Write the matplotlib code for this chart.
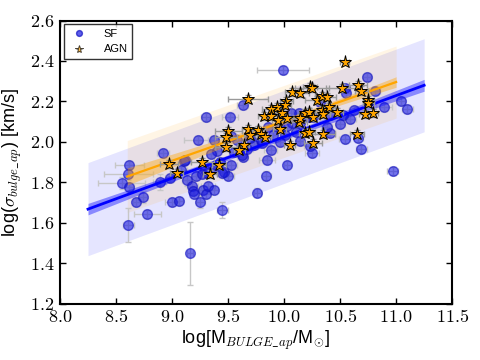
import numpy as np
import matplotlib

matplotlib.use('Agg')

from matplotlib import pyplot as plt
from matplotlib.ticker import FuncFormatter

##### Data #####
# SF galaxies: log bulge mass, log sigma, errors
sf_mass = [8.55, 8.61, 8.62, 8.62, 8.61, 8.68, 8.74, 8.78, 8.92, 8.89,
           8.98, 9.00, 9.06, 9.11, 9.08, 9.13, 9.18, 9.19, 9.20, 9.21,
           9.23, 9.16, 9.45, 9.25, 9.28, 9.30, 9.32, 9.37, 9.29, 9.37,
           9.46, 9.50, 9.53, 9.63, 9.76, 9.84, 9.85, 10.03, 9.88, 10.25,
           10.69, 10.97, 9.12, 9.30, 9.52, 9.63, 9.99, 9.37, 9.40, 9.35,
           9.58, 9.53, 9.73, 9.55, 9.62, 9.80, 9.79, 9.90, 9.86, 10.01,
           10.07, 10.11, 10.13, 10.14, 10.23, 10.22, 10.32, 10.41, 10.41, 10.50,
           10.62, 10.59, 10.66, 10.54, 10.38, 10.54, 10.55, 10.74, 10.81, 11.04,
           11.10, 10.89, 10.53, 9.96, 10.03, 10.14, 10.26, 9.27, 9.45, 9.39,
           9.31, 9.43, 9.67, 9.70, 9.96, 10.06]
sf_sigma = [1.796, 1.840, 1.886, 1.779, 1.590, 1.704, 1.727, 1.643, 1.944, 1.804,
            1.821, 1.705, 1.707, 1.908, 1.862, 1.812, 1.781, 1.757, 1.742, 1.834,
            2.010, 1.450, 1.664, 1.705, 1.763, 1.742, 1.784, 1.763, 1.862, 1.870,
            1.853, 1.834, 1.886, 1.925, 1.750, 1.834, 1.913, 1.886, 1.958, 1.944,
            1.964, 1.857, 1.913, 2.122, 2.121, 2.181, 2.357, 2.009, 1.957, 1.941,
            2.010, 2.031, 1.987, 1.952, 1.936, 1.994, 2.010, 2.035, 2.076, 2.035,
            2.092, 2.051, 2.145, 2.005, 1.980, 2.125, 2.199, 2.133, 2.043, 2.090,
            2.158, 2.115, 2.018, 2.016, 2.072, 2.265, 2.240, 2.323, 2.252, 2.204,
            2.165, 2.171, 2.133, 2.068, 2.077, 2.095, 2.125, 1.840, 1.849, 1.886,
            1.849, 1.900, 1.965, 2.020, 2.000, 2.145]
sf_mass_err = [0.21, 0.22, 0.13, 0.04, 0.05, 0.03, 0.04, 0.12, 0.05, 0.06,
               0.04, 0.06, 0.04, 0.05, 0.05, 0.04, 0.05, 0.04, 0.03, 0.04,
               0.12, 0.03, 0.05, 0.04, 0.04, 0.05, 0.06, 0.04, 0.05, 0.05,
               0.04, 0.05, 0.05, 0.05, 0.03, 0.04, 0.07, 0.03, 0.06, 0.06,
               0.05, 0.05, 0.04, 0.04, 0.07, 0.05, 0.23, 0.05, 0.04, 0.04,
               0.05, 0.04, 0.05, 0.04, 0.04, 0.05, 0.04, 0.06, 0.04, 0.05,
               0.05, 0.05, 0.05, 0.04, 0.05, 0.04, 0.05, 0.05, 0.04, 0.04,
               0.04, 0.05, 0.04, 0.05, 0.05, 0.05, 0.04, 0.04, 0.05, 0.04,
               0.05, 0.07, 0.04, 0.04, 0.05, 0.04, 0.05, 0.04, 0.05, 0.05,
               0.05, 0.04, 0.05, 0.04, 0.05, 0.05]
sf_sigma_err = [0.03, 0.03, 0.02, 0.02, 0.085, 0.02, 0.03, 0.02, 0.02, 0.04,
                0.02, 0.02, 0.02, 0.02, 0.02, 0.03, 0.02, 0.02, 0.02, 0.02,
                0.02, 0.155, 0.04, 0.03, 0.02, 0.02, 0.02, 0.02, 0.02, 0.02,
                0.02, 0.02, 0.02, 0.02, 0.02, 0.02, 0.02, 0.02, 0.02, 0.02,
                0.02, 0.02, 0.02, 0.02, 0.02, 0.02, 0.02, 0.02, 0.02, 0.02,
                0.02, 0.02, 0.02, 0.02, 0.02, 0.02, 0.02, 0.02, 0.02, 0.02,
                0.02, 0.02, 0.02, 0.02, 0.02, 0.02, 0.02, 0.02, 0.02, 0.02,
                0.02, 0.02, 0.02, 0.02, 0.02, 0.02, 0.02, 0.02, 0.02, 0.02,
                0.02, 0.02, 0.02, 0.02, 0.02, 0.02, 0.02, 0.02, 0.02, 0.02,
                0.02, 0.02, 0.02, 0.02, 0.02, 0.02]

# AGN
agn_mass = [10.54, 9.68, 10.07, 10.14, 10.23, 10.25, 10.52, 10.66, 10.69, 10.75,
            10.75, 10.29, 10.34, 10.38, 10.02, 10.01, 9.94, 9.88, 9.82, 9.88,
            9.98, 9.95, 10.03, 10.19, 10.22, 10.34, 10.35, 10.40, 10.47, 10.72,
            10.79, 10.13, 10.14, 9.96, 10.19, 10.22, 10.35, 10.65, 10.05, 10.26,
            9.50, 9.48, 9.68, 9.70, 9.77, 9.79, 9.64, 9.60, 9.48, 8.97,
            9.27, 9.04, 9.42, 9.34, 10.26, 9.83]
agn_sigma = [2.394, 2.212, 2.246, 2.242, 2.271, 2.268, 2.266, 2.283, 2.254, 2.207,
             2.194, 2.208, 2.226, 2.223, 2.202, 2.184, 2.171, 2.163, 2.128, 2.128,
             2.145, 2.109, 2.117, 2.142, 2.150, 2.158, 2.136, 2.172, 2.150, 2.137,
             2.143, 2.100, 2.117, 2.063, 2.046, 2.049, 2.038, 2.041, 1.985, 1.997,
             2.052, 2.026, 2.063, 2.035, 2.059, 2.039, 1.985, 1.960, 1.977, 1.890,
             1.902, 1.846, 1.884, 1.842, 2.122, 2.026]
agn_mass_err = [0.04, 0.18, 0.06, 0.08, 0.06, 0.15, 0.15, 0.08, 0.06, 0.05,
                0.05, 0.10, 0.06, 0.08, 0.06, 0.05, 0.06, 0.08, 0.05, 0.06,
                0.05, 0.06, 0.05, 0.06, 0.06, 0.10, 0.06, 0.05, 0.06, 0.05,
                0.05, 0.07, 0.06, 0.06, 0.06, 0.06, 0.10, 0.06, 0.05, 0.08,
                0.12, 0.10, 0.06, 0.06, 0.06, 0.05, 0.05, 0.05, 0.10, 0.08,
                0.10, 0.06, 0.06, 0.06, 0.06, 0.05]
agn_sigma_err = [0.01, 0.02, 0.02, 0.02, 0.02, 0.02, 0.02, 0.02, 0.02, 0.02,
                 0.02, 0.02, 0.02, 0.02, 0.02, 0.02, 0.02, 0.02, 0.02, 0.02,
                 0.02, 0.02, 0.02, 0.02, 0.02, 0.02, 0.02, 0.02, 0.02, 0.02,
                 0.02, 0.02, 0.02, 0.02, 0.02, 0.02, 0.02, 0.02, 0.02, 0.02,
                 0.02, 0.02, 0.02, 0.02, 0.02, 0.02, 0.02, 0.02, 0.02, 0.02,
                 0.02, 0.02, 0.02, 0.02, 0.02, 0.02]

# linear fits: mass range, slope, intercept, confidence (x0, min half width, growth), scatter band
sf_fit_range = [8.25, 11.25]
sf_slope, sf_icpt = 0.204, -0.015
sf_conf = [9.72, 0.012, 0.0175]
sf_pred = 0.23

agn_fit_range = [8.6, 11.0]
agn_slope, agn_icpt = 0.1946, 0.1555
agn_conf = [10.15, 0.014, 0.0257]
agn_pred = 0.178

##### Style #####
plt.rcParams['font.family'] = ['Liberation Sans', 'DejaVu Sans']
plt.rcParams['mathtext.fontset'] = 'cm'
plt.rcParams['xtick.direction'] = 'in'
plt.rcParams['ytick.direction'] = 'in'

fig = plt.figure(figsize=(4.8, 3.6), dpi=100)
ax = fig.add_axes([0.125, 0.156, 0.817, 0.787])


def draw_fit(rng, slope, icpt, conf, pred, color, lw):
	xx = np.linspace(rng[0], rng[1], 100)
	yy = slope * xx + icpt
	half = np.sqrt(conf[1] ** 2 + (conf[2] * (xx - conf[0])) ** 2)
	ax.fill_between(xx, yy - pred, yy + pred, color=color, alpha=0.1, lw=0, zorder=1)
	ax.fill_between(xx, yy - half, yy + half, color=color, alpha=0.4, lw=0, zorder=4)
	ax.plot(xx, yy, color=color, lw=lw, zorder=5)


# bands
draw_fit(sf_fit_range, sf_slope, sf_icpt, sf_conf, sf_pred, 'b', 2.0)
draw_fit(agn_fit_range, agn_slope, agn_icpt, agn_conf, agn_pred, 'orange', 1.6)

##### Points #####
ax.errorbar(sf_mass, sf_sigma, xerr=sf_mass_err, yerr=sf_sigma_err, fmt='none',
	ecolor='0.78', elinewidth=1, capsize=2, zorder=2)
ax.plot(sf_mass, sf_sigma, 'o', color='#1a1ae0', alpha=0.6, ms=7, mec='#1010c0', zorder=3, label='SF')

ax.errorbar(agn_mass, agn_sigma, xerr=agn_mass_err, yerr=agn_sigma_err, fmt='none',
	ecolor='0.6', elinewidth=1, capsize=2, zorder=6)
ax.plot(agn_mass, agn_sigma, '*', color='orange', ms=9.5, mec='k', mew=0.7, zorder=7, label='AGN')

ax.set_xlim(8.0, 11.5)
ax.set_ylim(1.2, 2.6)
ax.set_xticks(np.arange(8.0, 11.6, 0.5))
ax.set_yticks(np.arange(1.2, 2.61, 0.2))
ax.xaxis.set_major_formatter(FuncFormatter(lambda v, p: '$%.1f$' % v))
ax.yaxis.set_major_formatter(FuncFormatter(lambda v, p: '$%.1f$' % v))
ax.tick_params(which='major', length=4, width=1, top=True, right=True, labelsize=13, pad=4)
for s in ax.spines.values():
	s.set_linewidth(1.5)

ax.set_xlabel(r'log[M$_{BULGE\_ap}$/M$_{\odot}$]', fontsize=13, labelpad=2)
ax.set_ylabel(r'log($\sigma_{bulge\_ap}$) [km/s]', fontsize=13, labelpad=4)

leg = ax.legend(loc='upper left', numpoints=1, fontsize=8, markerscale=0.6,
	fancybox=False, borderaxespad=0.35, handletextpad=1.2)
leg.get_frame().set_edgecolor('k')
leg.get_frame().set_linewidth(1)
for h in leg.legend_handles:
	h.set_alpha(0.7)

plt.savefig('out.png', dpi=100)
